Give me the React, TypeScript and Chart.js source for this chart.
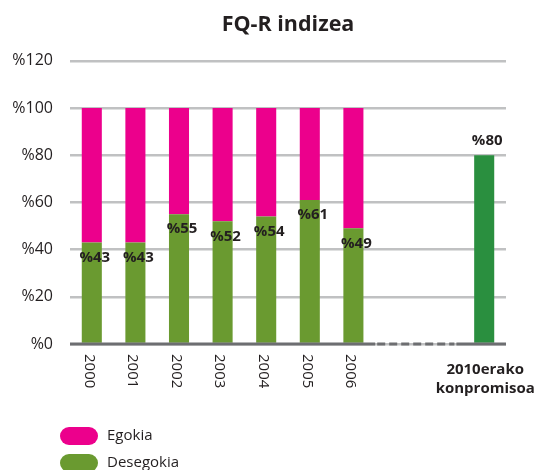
import React, { useEffect, useRef } from 'react';
import { Chart, registerables } from 'chart.js';

Chart.register(...registerables);

// ---- data ----
const categories: (string | string[])[] = ['2000', '2001', '2002', '2003', '2004', '2005', '2006', '', '', ['2010erako', 'konpromisoa']];
const desegokia: (number | null)[] = [43, 43, 55, 52, 54, 61, 49, null, null, 80];
const egokia: (number | null)[] = [57, 57, 45, 48, 46, 39, 51, null, null, null];
const yTicks = [0, 20, 40, 60, 80, 100, 120];
const titleText = 'FQ-R indizea';
const legendNames = ['Egokia', 'Desegokia'];

const FONT = "'Open Sans', 'Noto Sans', sans-serif";
const PINK = '#ec008c';
const GREEN = '#6a9a30';
const DARK_GREEN = '#2a8f3f';
const TEXT = '#231f20';

const overlay = {
  id: 'overlay',
  afterDatasetsDraw(chart: any) {
    const { ctx, chartArea, scales } = chart;
    const x = scales.x;
    const y = scales.y;
    const y0 = y.getPixelForValue(0);
    const split1 = (x.getPixelForValue(6) + x.getPixelForValue(7)) / 2;
    const split2 = (x.getPixelForValue(8) + x.getPixelForValue(9)) / 2 - 8;
    ctx.save();
    ctx.strokeStyle = '#6d6e71';
    ctx.lineWidth = 3;
    ctx.beginPath();
    ctx.moveTo(chartArea.left, y0);
    ctx.lineTo(split1, y0);
    ctx.stroke();
    ctx.setLineDash([8, 4]);
    ctx.beginPath();
    ctx.moveTo(split1 + 2, y0);
    ctx.lineTo(split2, y0);
    ctx.stroke();
    ctx.setLineDash([]);
    ctx.beginPath();
    ctx.moveTo(split2 + 2, y0);
    ctx.lineTo(chartArea.right, y0);
    ctx.stroke();

    // value labels
    const meta = chart.getDatasetMeta(0);
    ctx.fillStyle = TEXT;
    ctx.font = `bold 15px ${FONT}`;
    ctx.textAlign = 'center';
    ctx.textBaseline = 'middle';
    desegokia.forEach((v, i) => {
      if (v == null) return;
      const bar = meta.data[i];
      if (i === desegokia.length - 1) {
        ctx.fillText('%' + v, bar.x + 3, bar.y - 14);
      } else {
        ctx.fillText('%' + v, bar.x + 3, bar.y + 15);
      }
    });

    // category labels
    categories.forEach((c, i) => {
      const cx = x.getPixelForValue(i);
      if (Array.isArray(c)) {
        ctx.font = `bold 15px ${FONT}`;
        ctx.textAlign = 'center';
        ctx.textBaseline = 'middle';
        c.forEach((line, k) => ctx.fillText(line, cx + 1, y0 + 26 + k * 19));
      } else if (c) {
        ctx.save();
        ctx.font = `15px ${FONT}`;
        ctx.translate(cx - 3, y0 + 10);
        ctx.rotate(Math.PI / 2);
        ctx.textAlign = 'left';
        ctx.textBaseline = 'middle';
        ctx.fillText(c, 0, 0);
        ctx.restore();
      }
    });

    // legend
    const colors = [PINK, GREEN];
    legendNames.forEach((name, k) => {
      const ly = 436 + k * 27;
      ctx.fillStyle = colors[k];
      ctx.beginPath();
      (ctx as any).roundRect(60, ly - 9, 38, 18, 9);
      ctx.fill();
      ctx.fillStyle = TEXT;
      ctx.font = `15px ${FONT}`;
      ctx.textAlign = 'left';
      ctx.textBaseline = 'middle';
      ctx.fillText(name, 107, ly);
    });
    ctx.restore();
  },
};

export default function App() {
  const ref = useRef<HTMLCanvasElement>(null);
  useEffect(() => {
    if (!ref.current) return;
    const labels = categories.map((c) => (Array.isArray(c) ? c.join(' ') : c));
    const greenColors = desegokia.map((_, i) => (i === desegokia.length - 1 ? DARK_GREEN : GREEN));
    const chart = new Chart(ref.current, {
      type: 'bar',
      data: {
        labels,
        datasets: [
          { label: legendNames[1], data: desegokia, backgroundColor: greenColors, barPercentage: 0.46, categoryPercentage: 1 },
          { label: legendNames[0], data: egokia, backgroundColor: PINK, barPercentage: 0.46, categoryPercentage: 1 },
        ],
      },
      options: {
        responsive: false,
        animation: false,
        layout: { padding: { left: 0, right: 36, top: 0, bottom: 126 } },
        plugins: {
          legend: { display: false },
          tooltip: { enabled: false },
          title: {
            display: true,
            text: titleText,
            fullSize: false,
            color: TEXT,
            font: { family: FONT, size: 21.5, weight: 'bold' },
            lineHeight: 1.2,
            padding: { top: 12, bottom: 23 },
          },
        },
        scales: {
          x: {
            stacked: true,
            ticks: { display: false },
            grid: { display: false },
            border: { display: false },
            afterFit: (s: any) => { s.height = 0; },
          },
          y: {
            stacked: true,
            min: 0,
            max: 120,
            afterBuildTicks: (s: any) => { s.ticks = yTicks.map((v) => ({ value: v })); },
            ticks: {
              callback: (v: any) => '%' + v,
              color: TEXT,
              padding: 17,
              font: { family: FONT, size: 16 },
            },
            grid: { color: '#c0c1c2', lineWidth: 2.5, drawTicks: false },
            border: { display: false },
            afterFit: (s: any) => { s.width = 70; },
          },
        },
      },
      plugins: [overlay],
    });
    return () => chart.destroy();
  }, []);
  return (
    <div style={{ position: 'absolute', left: 0, top: 0, width: 542, height: 470 }}>
      <canvas ref={ref} width={542} height={470} />
    </div>
  );
}
